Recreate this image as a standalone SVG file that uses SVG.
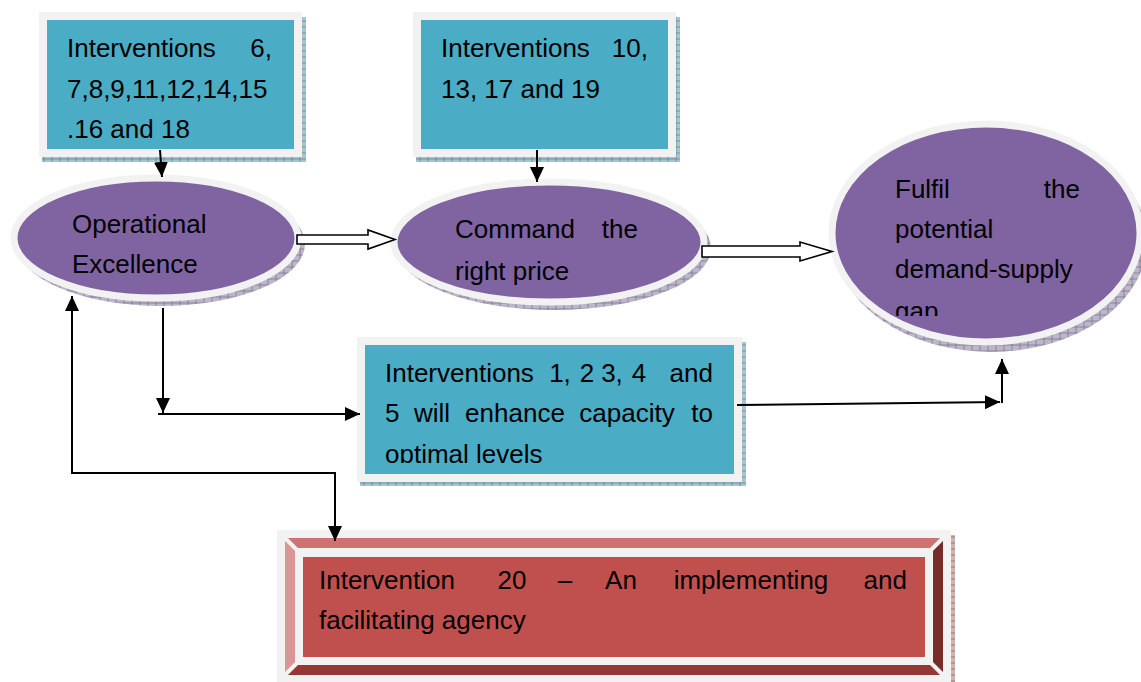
<svg xmlns="http://www.w3.org/2000/svg" width="1141" height="682" viewBox="0 0 1141 682">
<style>
  .t { font-family: "Liberation Sans", Arial, sans-serif; font-size: 26px; fill: #000; }
  .teal { fill: #4BACC6; stroke: #F2F2F2; stroke-width: 8; }
  .purp { fill: #8064A2; stroke: #F2F2F2; stroke-width: 7; }
  .conn { fill: none; stroke: #000; stroke-width: 2; }
  .block { fill: #fff; stroke: #000; stroke-width: 1.6; stroke-linejoin: miter; }
</style>
<defs>
  <pattern id="hB" width="8" height="6" patternUnits="userSpaceOnUse">
    <rect width="8" height="6" fill="#A9C4CE"/>
    <path d="M0 3H8M4 0V6" stroke="#5E8796" stroke-width="0.8"/>
  </pattern>
  <pattern id="hP" width="8" height="6" patternUnits="userSpaceOnUse">
    <rect width="8" height="6" fill="#BDB6C9"/>
    <path d="M0 3H8M4 0V6" stroke="#7E7690" stroke-width="0.8"/>
  </pattern>
  <pattern id="hR" width="8" height="6" patternUnits="userSpaceOnUse">
    <rect width="8" height="6" fill="#D3B2B2"/>
    <path d="M0 3H8M4 0V6" stroke="#8E6A6A" stroke-width="0.8"/>
  </pattern>
  <marker id="ah" markerUnits="userSpaceOnUse" markerWidth="16" markerHeight="16" viewBox="0 0 16 16" refX="15" refY="8" orient="auto-start-reverse">
    <path d="M0 1 L15 8 L0 15 Z" fill="#000"/>
  </marker>
  <clipPath id="clipB3"><rect x="350" y="330" width="400" height="133"/></clipPath>
  <clipPath id="clipE3"><rect x="820" y="110" width="321" height="206"/></clipPath>
</defs>
<rect width="1141" height="682" fill="#fff"/>

<g id="box1">
  <rect x="42" y="17" width="264" height="145" fill="url(#hB)"/>
  <rect class="teal" x="43" y="16" width="255" height="137"/>
  <text class="t" x="67" y="57">Interventions</text>
  <text class="t" x="272" y="57" text-anchor="end">6,</text>
  <text class="t" x="67" y="98">7,8,9,11,12,14,15</text>
  <text class="t" x="67" y="138">.16 and 18</text>
</g>

<g id="box2">
  <rect x="416" y="17" width="264" height="145" fill="url(#hB)"/>
  <rect class="teal" x="417" y="16" width="255" height="137"/>
  <text class="t" x="441" y="57">Interventions</text>
  <text class="t" x="648" y="57" text-anchor="end">10,</text>
  <text class="t" x="441" y="98">13, 17 and 19</text>
</g>

<g id="ellipse1">
  <ellipse cx="161" cy="244" rx="144" ry="62" fill="url(#hP)"/>
  <ellipse class="purp" cx="156" cy="238" rx="142" ry="60"/>
  <text class="t" x="72" y="233">Operational</text>
  <text class="t" x="72" y="273">Excellence</text>
</g>

<g id="ellipse2">
  <ellipse cx="554" cy="248" rx="157" ry="62" fill="url(#hP)"/>
  <ellipse class="purp" cx="549" cy="242" rx="155" ry="60"/>
  <text class="t" x="455" y="238">Command</text>
  <text class="t" x="638" y="238" text-anchor="end">the</text>
  <text class="t" x="455" y="280">right price</text>
</g>

<g id="ellipse3">
  <ellipse cx="991" cy="241" rx="156" ry="111" fill="url(#hP)"/>
  <ellipse class="purp" cx="986" cy="233" rx="154" ry="109"/>
  <g clip-path="url(#clipE3)">
    <text class="t" x="895" y="198">Fulfil</text>
    <text class="t" x="1080" y="198" text-anchor="end">the</text>
    <text class="t" x="895" y="238">potential</text>
    <text class="t" x="895" y="278">demand-supply</text>
    <text class="t" x="895" y="320">gap</text>
  </g>
</g>

<g id="box3">
  <rect x="360" y="342" width="386" height="144" fill="url(#hB)"/>
  <rect class="teal" x="361" y="341" width="377" height="137"/>
  <g clip-path="url(#clipB3)">
    <text class="t" x="385" y="382">Interventions</text>
    <text class="t" x="560" y="382" text-anchor="middle">1,</text>
    <text class="t" x="587" y="382" text-anchor="middle">2</text>
    <text class="t" x="612" y="382" text-anchor="middle">3,</text>
    <text class="t" x="639" y="382" text-anchor="middle">4</text>
    <text class="t" x="713" y="382" text-anchor="end">and</text>
    <text class="t" x="385" y="422">5</text>
    <text class="t" x="432" y="422" text-anchor="middle">will</text>
    <text class="t" x="515" y="422" text-anchor="middle">enhance</text>
    <text class="t" x="627" y="422" text-anchor="middle">capacity</text>
    <text class="t" x="713" y="422" text-anchor="end">to</text>
    <text class="t" x="385" y="463">optimal levels</text>
  </g>
</g>

<g id="box4">
  <rect x="281" y="535" width="674" height="150" fill="url(#hR)"/>
  <rect x="277" y="530" width="674" height="155" fill="#F2F2F2"/>
  <polygon points="285,538 943,538 933,548 295,548" fill="#CD7371"/>
  <polygon points="285,538 295,548 295,665 285,675" fill="#D99694"/>
  <polygon points="943,538 943,675 933,665 933,548" fill="#772C2A"/>
  <polygon points="285,675 943,675 933,665 295,665" fill="#953735"/>
  <g stroke="#F2F2F2" stroke-width="4">
    <line x1="285" y1="538" x2="299" y2="552"/>
    <line x1="943" y1="538" x2="929" y2="552"/>
    <line x1="285" y1="675" x2="299" y2="661"/>
    <line x1="943" y1="675" x2="929" y2="661"/>
  </g>
  <rect x="295" y="548" width="638" height="117" fill="#F2F2F2"/>
  <rect x="303" y="557" width="622" height="100" fill="#C0504D"/>
  <text class="t" x="319" y="589">Intervention</text>
  <text class="t" x="512" y="589" text-anchor="middle">20</text>
  <text class="t" x="565" y="589" text-anchor="middle">–</text>
  <text class="t" x="621" y="589" text-anchor="middle">An</text>
  <text class="t" x="751" y="589" text-anchor="middle">implementing</text>
  <text class="t" x="907" y="589" text-anchor="end">and</text>
  <text class="t" x="319" y="629">facilitating agency</text>
</g>

<g id="connectors">
  <line class="conn" x1="160" y1="150" x2="162" y2="177" marker-end="url(#ah)"/>
  <line class="conn" x1="537" y1="150" x2="537" y2="182" marker-end="url(#ah)"/>
  <polygon class="block" points="297,235 368,235 368,230 395,239.5 368,249 368,244 297,244"/>
  <polygon class="block" points="702,246 800,246 800,242 832,251.5 800,261 800,257 702,257"/>
  <line class="conn" x1="163" y1="308" x2="163" y2="413" marker-end="url(#ah)"/>
  <line class="conn" x1="158" y1="414" x2="360" y2="414" marker-end="url(#ah)"/>
  <line class="conn" x1="737" y1="405" x2="1000" y2="402" marker-end="url(#ah)"/>
  <line class="conn" x1="1002" y1="403" x2="1002" y2="359" marker-end="url(#ah)"/>
  <polyline class="conn" points="72,296 72,473 335,473 335,541" marker-start="url(#ah)" marker-end="url(#ah)"/>
</g>
</svg>
